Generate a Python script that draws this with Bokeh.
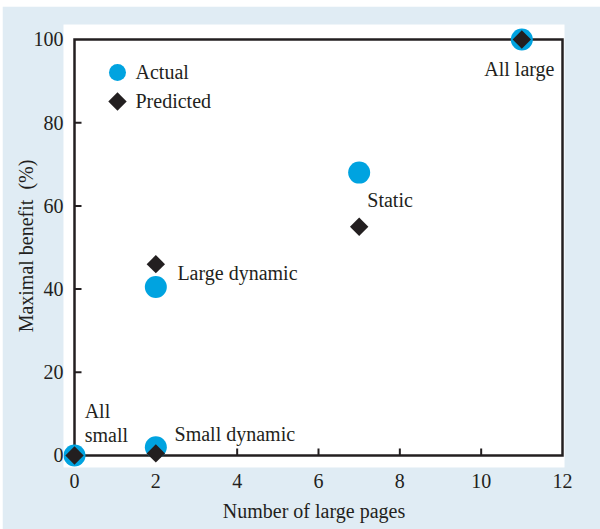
from bokeh.plotting import figure
from bokeh.models import Range1d, FixedTicker
from bokeh.core.properties import value
from bokeh.embed import file_html
from bokeh.resources import INLINE
import math

# ---- data ----
pages = [0, 2, 2, 7, 11]
actual = [0, 2, 40.5, 68, 100]
predicted = [0, 0.5, 46, 55, 100]

x_ticks = [0, 2, 4, 6, 8, 10, 12]
y_ticks = [0, 20, 40, 60, 80, 100]

label_text = ["Static", "Large dynamic", "Small dynamic", "All\nsmall"]
label_x = [7.2, 2.53, 2.46, 0.25]
label_y = [61.3, 43.75, 5.05, 7.9]
center_label_text = ["All large"]
center_label_x = [10.94]
center_label_y = [93.0]

legend_names = ["Actual", "Predicted"]
legend_x = 1.057
legend_text_x = 1.5
legend_y = [92.07, 85.1]

FONT = "Liberation Serif"
FS = "20px"
BG = "#e0ecf4"
BLUE = "#00a3e0"
DARK = "#231f20"

X0, X1 = x_ticks[0], x_ticks[-1]
Y0, Y1 = y_ticks[0], y_ticks[-1]
FRAME_W, FRAME_H = 501.0, 443.0
XR = Range1d(-0.2705, 12.049)
YR = Range1d(-2.885, 103.6)
TICK_X = 7 * (XR.end - XR.start) / FRAME_W
TICK_Y = 7 * (YR.end - YR.start) / FRAME_H

p = figure(width=598, height=523, margin=(6, 0, 0, 2),
           x_range=XR, y_range=YR,
           output_backend="svg", toolbar_location=None,
           min_border_left=61, min_border_right=36, min_border_top=18, min_border_bottom=62,
           background_fill_color=BG, background_fill_alpha=0,
           border_fill_color=BG, outline_line_color=None)
p.grid.visible = False

for ax in (p.xaxis[0], p.yaxis[0]):
    ax.axis_line_color = None
    ax.major_tick_line_color = None
    ax.minor_tick_line_color = None
    ax.major_tick_in = 0
    ax.major_tick_out = 0
    ax.major_label_text_font = FONT
    ax.major_label_text_font_size = FS
    ax.major_label_text_color = DARK
    ax.axis_label_text_font = FONT
    ax.axis_label_text_font_size = FS
    ax.axis_label_text_font_style = "normal"
    ax.axis_label_text_color = DARK

p.xaxis.ticker = FixedTicker(ticks=x_ticks)
p.yaxis.ticker = FixedTicker(ticks=y_ticks)
p.xaxis.axis_label = "Number of large pages"
p.yaxis.axis_label = "Maximal benefit\u00a0 (%)"
p.xaxis.major_label_standoff = 6
p.yaxis.major_label_standoff = 0
p.xaxis.axis_label_standoff = 9
p.yaxis.axis_label_standoff = -6

# frame box
p.line(x=[X0, X0, X1, X1, X0], y=[Y0, Y1, Y1, Y0, Y0],
       line_width=2.5, line_color=DARK, line_join="miter")
# inward ticks
inner_x = x_ticks[1:-1]
p.segment(x0=inner_x, y0=[Y0] * len(inner_x), x1=inner_x, y1=[Y0 + TICK_Y] * len(inner_x),
          line_width=2, line_color=DARK)
inner_y = y_ticks[1:-1]
p.segment(x0=[X0] * len(inner_y), y0=inner_y, x1=[X0 + TICK_X] * len(inner_y), y1=inner_y,
          line_width=2, line_color=DARK)

# data marks
p.scatter(pages, actual, marker="circle", size=22, fill_color=BLUE, line_color=None)
p.scatter(pages, predicted, marker="square", size=13, angle=math.pi / 4,
          fill_color=DARK, line_color=None)

# point labels
p.text(x=label_x, y=label_y, text=label_text, text_font=value(FONT), text_font_size=FS,
       text_color=DARK, text_align="left", text_baseline="middle", text_line_height=1.1)
p.text(x=center_label_x, y=center_label_y, text=center_label_text, text_font=value(FONT),
       text_font_size=FS, text_color=DARK, text_align="center", text_baseline="middle")

# legend
p.scatter([legend_x], [legend_y[0]], marker="circle", size=17, fill_color=BLUE, line_color=None)
p.scatter([legend_x], [legend_y[1]], marker="square", size=13, angle=math.pi / 4,
          fill_color=DARK, line_color=None)
p.text(x=[legend_text_x] * 2, y=legend_y, text=legend_names, text_font=value(FONT),
       text_font_size=FS, text_color=DARK, text_align="left", text_baseline="middle")

open("out.html", "w").write(file_html(p, INLINE))
